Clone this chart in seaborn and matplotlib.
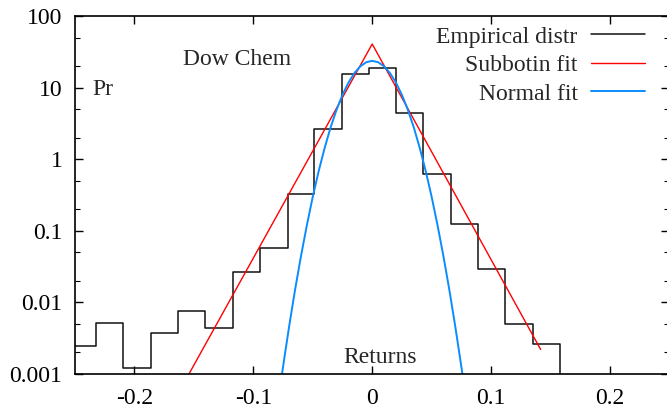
import numpy as np
import pandas as pd
import matplotlib
matplotlib.use("Agg")
import matplotlib.pyplot as plt
from matplotlib.ticker import LogLocator, FixedLocator, FuncFormatter, NullLocator
import seaborn as sns

# Empirical distribution (histogram of returns, log density)
bin_edges = [-0.2557, -0.2326, -0.2096, -0.1863, -0.1633, -0.1406, -0.1175, -0.0945,
             -0.0712, -0.0491, -0.0258, -0.0025, 0.0200, 0.0429, 0.0660, 0.0892,
             0.1117, 0.1350, 0.1580]
densities = [0.00245, 0.00514, 0.0012, 0.00365, 0.00757, 0.00437, 0.0268, 0.0575,
             0.324, 2.63, 15.3, 18.9, 4.36, 0.611, 0.123, 0.0287, 0.00492, 0.00256]

# Subbotin fit (straight in log scale, tent shape)
subbotin_x = [-0.154, 0.0, 0.1417]
subbotin_y = [0.001, 40.6, 0.00218]

# Normal fit
normal_x = [-0.078, -0.075, -0.07, -0.065, -0.06, -0.055, -0.05, -0.045, -0.04, -0.035,
            -0.03, -0.025, -0.02, -0.015, -0.01, -0.005, 0.0, 0.005, 0.01, 0.015, 0.02,
            0.025, 0.03, 0.035, 0.04, 0.045, 0.05, 0.055, 0.06, 0.065, 0.07, 0.075, 0.078]
normal_y = [0.000559, 0.00125, 0.00444, 0.0145, 0.0432, 0.118, 0.297, 0.681, 1.43, 2.77,
            4.88, 7.90, 11.7, 15.9, 19.8, 22.6, 23.6, 22.6, 19.8, 15.9, 11.7,
            7.90, 4.88, 2.77, 1.43, 0.681, 0.297, 0.118, 0.0432, 0.0145, 0.00444, 0.00125, 0.000559]

x_ticks = [-0.2, -0.1, 0, 0.1, 0.2]
y_ticks = [0.001, 0.01, 0.1, 1, 10, 100]

sns.set_style("ticks")
plt.rcParams['font.family'] = ['Liberation Serif', 'DejaVu Serif']
plt.rcParams['font.size'] = 17

fig = plt.figure(figsize=(6.67, 4.08), dpi=100)
ax = fig.add_axes([75 / 667, 34.3 / 408, 594.4 / 667, 357.7 / 408])

emp = pd.DataFrame({'x': bin_edges, 'y': densities + [1e-6]})
sns.lineplot(data=emp, x='x', y='y', ax=ax, color='#111111', lw=1.1,
             drawstyle='steps-post', label='Empirical distr', sort=False)
sns.lineplot(x=subbotin_x, y=subbotin_y, ax=ax, color='#ff0000', lw=1.0,
             label='Subbotin fit', sort=False)
sns.lineplot(x=normal_x, y=normal_y, ax=ax, color='#0a8cff', lw=1.4,
             label='Normal fit', sort=False)

ax.set_yscale('log')
ax.set_xlim(-0.25, 0.25)
ax.set_ylim(0.001, 100)
ax.xaxis.set_major_locator(FixedLocator(x_ticks))
ax.xaxis.set_minor_locator(NullLocator())
ax.yaxis.set_major_locator(FixedLocator(y_ticks))
ax.yaxis.set_minor_locator(LogLocator(base=10, subs=[2, 5]))
fmt = FuncFormatter(lambda v, p: '%g' % v)
ax.xaxis.set_major_formatter(fmt)
ax.yaxis.set_major_formatter(fmt)
ax.yaxis.set_minor_formatter(FuncFormatter(lambda v, p: ''))

ax.tick_params(which='both', direction='in', top=True, right=True, colors='black')
ax.tick_params(which='major', length=6, width=1)
ax.tick_params(which='minor', length=3.5, width=0.8)
ax.tick_params(axis='x', which='major', pad=10.5, labelsize=17)
ax.tick_params(axis='y', which='major', pad=9, labelsize=17)
for s in ax.spines.values():
    s.set_visible(True)
    s.set_color('black')
    s.set_linewidth(1.2)
ax.set_xlabel('')
ax.set_ylabel('')

ax.text(0.181, 0.877, 'Dow Chem', transform=ax.transAxes, ha='left', va='center', fontsize=17)
ax.text(0.029, 0.794, 'Pr', transform=ax.transAxes, ha='left', va='center', fontsize=17)
ax.text(0.451, 0.045, 'Returns', transform=ax.transAxes, ha='left', va='center', fontsize=17)

ax.legend(loc='upper right', bbox_to_anchor=(645 / 667, 1 - 26 / 408),
          bbox_transform=fig.transFigure, markerfirst=False, frameon=False,
          handlelength=2.3, handletextpad=0.55, labelspacing=0.3,
          borderpad=0, borderaxespad=0, fontsize=17)

fig.savefig('out.png', dpi=100)
